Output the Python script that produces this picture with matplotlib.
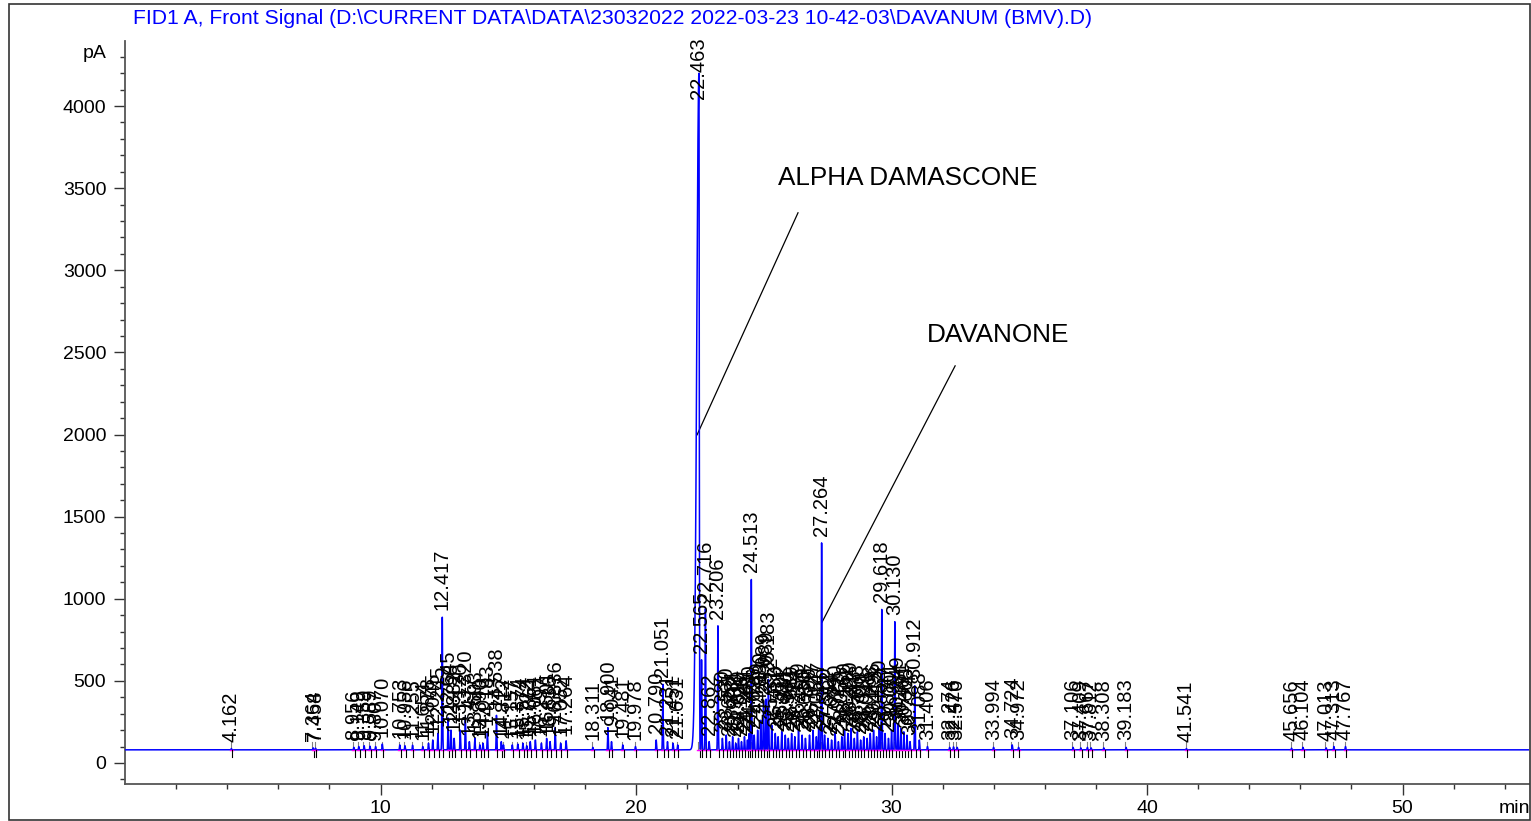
import numpy as np
import matplotlib
matplotlib.use("Agg")
import matplotlib.pyplot as plt
from matplotlib.patches import Rectangle

plt.rcParams['font.family'] = ['Liberation Sans', 'DejaVu Sans']

# ---------------- data ----------------
retention_times = [
    4.162, 7.364, 7.458, 8.956, 9.149, 9.359, 9.589, 9.807, 10.070, 10.753,
    10.956, 11.255, 11.654, 11.878, 12.045, 12.245, 12.417, 12.645, 12.758, 12.882,
    13.120, 13.320, 13.477, 13.693, 13.890, 14.013, 14.183, 14.538, 14.727, 14.812,
    15.157, 15.374, 15.574, 15.722, 15.861, 16.061, 16.297, 16.501, 16.636, 16.836,
    17.052, 17.264, 18.311, 18.900, 19.041, 19.481, 19.978, 20.790, 21.051, 21.231,
    21.451, 21.631, 22.463, 22.565, 22.716, 22.862, 23.206, 23.380, 23.530, 23.655,
    23.781, 23.902, 24.010, 24.128, 24.244, 24.361, 24.430, 24.513, 24.626, 24.760,
    24.880, 24.989, 25.089, 25.183, 25.312, 25.450, 25.561, 25.702, 25.841, 25.960,
    26.089, 26.214, 26.359, 26.499, 26.630, 26.790, 26.927, 27.057, 27.147, 27.264,
    27.380, 27.512, 27.654, 27.790, 27.921, 28.053, 28.160, 28.292, 28.410, 28.543,
    28.663, 28.790, 28.911, 29.046, 29.168, 29.296, 29.415, 29.520, 29.618, 29.747,
    29.880, 30.001, 30.130, 30.249, 30.361, 30.481, 30.605, 30.724, 30.912, 31.088,
    31.406, 32.274, 32.426, 32.570, 33.994, 34.724, 34.972, 37.106, 37.409, 37.667,
    37.812, 38.308, 39.183, 41.541, 45.656, 46.104, 47.013, 47.313, 47.767,
]
peak_heights = [
    88, 92, 90, 95, 100, 105, 102, 100, 115, 110,
    105, 108, 100, 120, 140, 180, 890, 275, 200, 150,
    200, 280, 130, 150, 110, 120, 190, 290, 130, 110,
    110, 115, 120, 105, 130, 140, 120, 150, 130, 215,
    120, 135, 95, 215, 130, 110, 100, 140, 480, 130,
    120, 110, 4200, 630, 940, 130, 835, 150, 170, 130,
    160, 120, 150, 130, 160, 140, 180, 1120, 170, 200,
    260, 380, 390, 510, 230, 180, 160, 190, 170, 150,
    180, 160, 200, 170, 150, 170, 200, 160, 210, 1340,
    170, 150, 140, 190, 130, 160, 200, 180, 210, 150,
    190, 140, 160, 150, 180, 200, 160, 220, 935, 180,
    150, 200, 860, 240, 210, 190, 170, 130, 470, 140,
    100, 95, 98, 95, 95, 110, 95, 95, 92, 95,
    92, 92, 95, 88, 90, 95, 92, 100, 100,
]
peak_labels = [f"{rt:.3f}" for rt in retention_times]
baseline_level = 80

x_major_ticks = [10, 20, 30, 40, 50]
y_major_ticks = [0, 500, 1000, 1500, 2000, 2500, 3000, 3500, 4000]

title_text = r"FID1 A, Front Signal (D:\CURRENT DATA\DATA\23032022 2022-03-23 10-42-03\DAVANUM (BMV).D)"
compound_names = ["ALPHA DAMASCONE", "DAVANONE"]
compound_text_pos = [(25.56, 3563), (31.39, 2607)]
compound_line_start = [(26.34, 3350), (32.49, 2418)]
compound_line_end = [(22.39, 1998), (27.28, 857)]

# ---------------- signal ----------------
t = np.arange(0.0, 54.95, 0.002)
signal = np.full_like(t, float(baseline_level))
tallest = int(np.argmax(peak_heights))
for i, (rt, h) in enumerate(zip(retention_times, peak_heights)):
    amp = h - baseline_level
    if i == tallest:
        sl, sr = 0.085, 0.013
    else:
        sl = sr = 0.013 if h > 300 else 0.011
    d = t - rt
    sig = np.where(d < 0, sl, sr)
    signal += amp * np.exp(-0.5 * (d / sig) ** 2)

# ---------------- figure ----------------
W, H = 1531, 821
fig = plt.figure(figsize=(W / 100, H / 100), dpi=100)
fig.patch.set_facecolor("white")
ax = fig.add_axes([125 / W, 1 - 784 / H, (1529 - 125) / W, (784 - 41) / H])
ax.set_xlim(0, 54.95)
ax.set_ylim(-128, 4396)

ax.plot(t, signal, color="#0000FF", lw=1.1, zorder=3)

# baseline segments and peak markers
for rt in retention_times:
    ax.plot([rt - 0.06, rt + 0.06], [baseline_level, baseline_level],
            color="#FF00FF", lw=1.0, zorder=4)
    ax.plot([rt + 0.03, rt + 0.03], [baseline_level, baseline_level - 45],
            color="black", lw=0.8, zorder=4)
    ax.plot([rt - 0.03, rt - 0.03], [baseline_level, baseline_level + 45],
            color="#808080", lw=0.8, zorder=2)

# peak labels
for rt, h, lab in zip(retention_times, peak_heights, peak_labels):
    ypos = min(h, 4000)
    ax.annotate(lab, xy=(rt, ypos), xytext=(0, 5), textcoords="offset points",
                rotation=90, ha="center", va="bottom", fontsize=14.5,
                color="black", zorder=5)

# compound annotations
for name, tp, ls, le in zip(compound_names, compound_text_pos,
                            compound_line_start, compound_line_end):
    ax.text(tp[0], tp[1], name, fontsize=18.8, ha="left", va="center", color="black")
    ax.plot([ls[0], le[0]], [ls[1], le[1]], color="black", lw=0.9)

# axes styling
for s in ["top", "right"]:
    ax.spines[s].set_visible(False)
for s in ["left", "bottom"]:
    ax.spines[s].set_color("#555555")
    ax.spines[s].set_linewidth(1.3)

ax.set_xticks(x_major_ticks)
ax.set_xticks(np.arange(2, 55, 2), minor=True)
ax.set_yticks(y_major_ticks)
ax.set_yticks(np.arange(-100, 4400, 100), minor=True)
ax.tick_params(axis="both", which="major", length=8, width=1.0, color="#333333",
               labelsize=14, direction="out")
ax.tick_params(axis="both", which="minor", length=3.6, width=1.0, color="#333333",
               direction="out")
ax.tick_params(axis="x", which="major", pad=3.5)
ax.tick_params(axis="y", which="major", pad=5.5)

# figure texts
fig.text(133 / W, 1 - 19 / H, title_text, color="#0000FF", fontsize=15.2,
         ha="left", va="center")
fig.text(107 / W, 1 - 53 / H, "pA", fontsize=14, ha="right", va="center")
fig.text(1530 / W, 1 - 808 / H, "min", fontsize=14, ha="right", va="center")

fig.patches.append(Rectangle((9 / W, 1 - 820 / H), (1530 - 9) / W, (820 - 4) / H,
                             transform=fig.transFigure, fill=False,
                             edgecolor="#333333", lw=1.2))

fig.savefig("out.png", dpi=100)
